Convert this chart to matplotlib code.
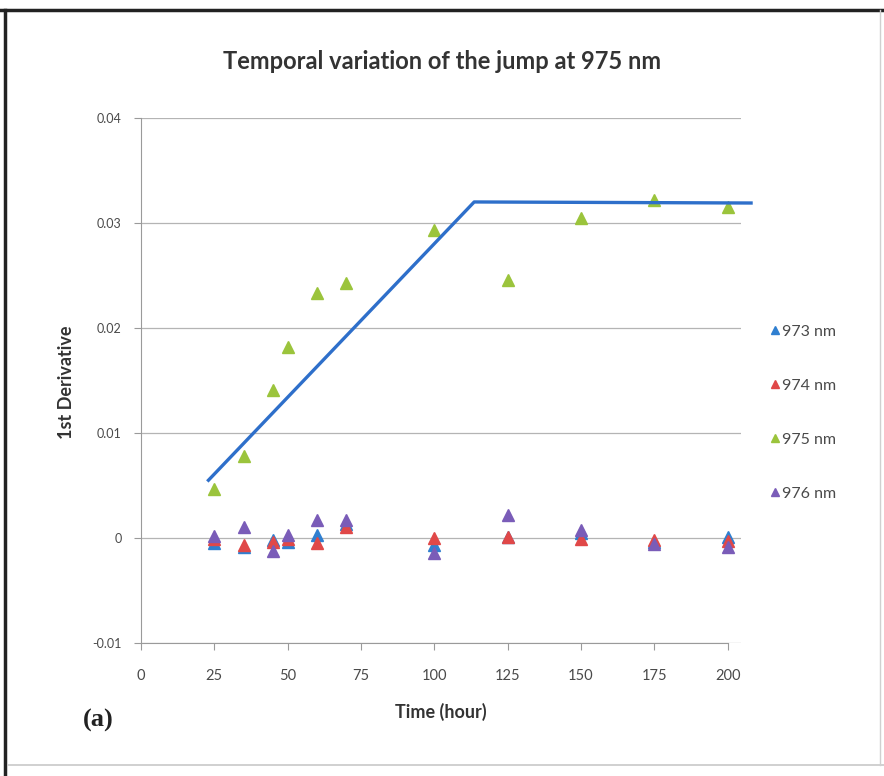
import numpy as np
import matplotlib
matplotlib.use('Agg')
import matplotlib.pyplot as plt
from matplotlib.lines import Line2D

plt.rcParams['font.family'] = ['Lato', 'DejaVu Sans']

# time points (hour)
hours = [25, 35, 45, 50, 60, 70, 100, 125, 150, 175, 200]

# 1st derivative values per wavelength
d973 = [-0.0005, -0.0009, -0.0002, -0.0004, 0.0003, 0.0013, -0.0007, 0.0001, 0.0005, -0.0004, 0.0001]
d974 = [-0.0001, -0.0007, -0.0004, -0.0001, -0.0005, 0.0010, 0.0000, 0.0001, -0.0001, -0.0002, -0.0003]
d975 = [0.0047, 0.0078, 0.0141, 0.0182, 0.0233, 0.0243, 0.0293, 0.0246, 0.0305, 0.0322, 0.0315]
d976 = [0.0002, 0.0010, -0.0012, 0.0003, 0.0017, 0.0017, -0.0014, 0.0022, 0.0008, -0.0006, -0.0009]

# hand-drawn trend line (x, y)
trend_x = [23, 113.6, 208]
trend_y = [0.0055, 0.0320, 0.0319]

series = [
    ('973 nm', d973, '#2f7fd0'),
    ('974 nm', d974, '#e04848'),
    ('975 nm', d975, '#9bc43c'),
    ('976 nm', d976, '#7a5cb8'),
]

fig = plt.figure(figsize=(8.84, 7.76), dpi=100)
ax = fig.add_axes([0.1595, 0.1714, 0.6785, 0.6766])

for label, vals, col in series:
    ax.plot(hours, vals, linestyle='none', marker='^', markersize=8,
            color=col, label=label, zorder=3)

ax.plot(trend_x, trend_y, color='#2e6fca', linewidth=2.4, clip_on=False, zorder=4)

ax.set_xlim(0, 204.5)
ax.set_ylim(-0.01, 0.04)
ax.set_xticks(np.arange(0, 201, 25))
ax.set_yticks([-0.01, 0, 0.01, 0.02, 0.03, 0.04])
ax.set_yticklabels(['-0.01', '0', '0.01', '0.02', '0.03', '0.04'])
ax.yaxis.grid(True, color='#b4b4b4', linewidth=0.9)
ax.set_axisbelow(True)

for s in ['top', 'right']:
    ax.spines[s].set_visible(False)
for s in ['left', 'bottom']:
    ax.spines[s].set_color('#9a9a9a')
ax.spines['bottom'].set_bounds(0, 200)
ax.tick_params(axis='y', labelsize=9, colors='#9a9a9a', labelcolor='#4a4a4a',
               length=5, pad=9)
ax.tick_params(axis='x', labelsize=10.5, colors='#9a9a9a', labelcolor='#4a4a4a',
               length=5, pad=14)

ax.set_xlabel('Time (hour)', fontsize=13, fontweight='bold', color='#333333', labelpad=14)
ax.set_ylabel('1st Derivative', fontsize=13, fontweight='bold', color='#333333')
ax.yaxis.set_label_coords(-0.11, 0.497)

fig.text(0.5, 0.921, 'Temporal variation of the jump at 975 nm', ha='center',
         va='center', fontsize=17, fontweight='bold', color='#333333')

fig.legend(loc='center left', bbox_to_anchor=(0.853, 0.468), frameon=False,
           fontsize=11.5, labelspacing=2.5, handletextpad=0.05, handlelength=0.8,
           markerscale=0.7, labelcolor='#4a4a4a')

fig.text(0.111, 0.072, '(a)', fontsize=19, fontweight='bold', color='#222222',
         family='Liberation Serif', ha='center', va='center')

# page frame
fig.add_artist(Line2D([0, 1], [0.987, 0.987], color='#222222', linewidth=2.5))
fig.add_artist(Line2D([0.006, 0.006], [0.0, 0.987], color='#222222', linewidth=2.5))
fig.add_artist(Line2D([0.009, 1], [0.014, 0.014], color='#c8c8c8', linewidth=1.2))
fig.add_artist(Line2D([0.996, 0.996], [0.014, 0.987], color='#d0d0d0', linewidth=1.0))

fig.savefig('out.png', dpi=100)
